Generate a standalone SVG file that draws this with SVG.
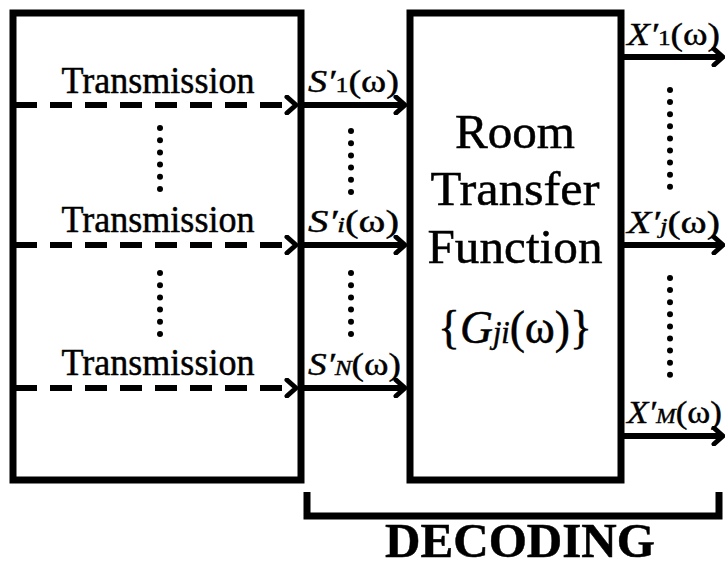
<svg xmlns="http://www.w3.org/2000/svg" width="728" height="566" viewBox="0 0 728 566">
<defs>
<style>
.box{fill:#fff;stroke:#000;stroke-width:7}
.sol{fill:none;stroke:#000;stroke-width:6}
.dash{fill:none;stroke:#000;stroke-width:6;stroke-dasharray:22 13}
.t{font-family:"Liberation Serif","Times New Roman","DejaVu Serif",serif;fill:#000;stroke:#000;stroke-width:0.5}
.lab{font-family:"Liberation Serif","Times New Roman","DejaVu Serif",serif;font-size:31px;fill:#000;stroke:#000;stroke-width:0.4}
.it{font-style:italic}
.sub{font-size:21px}
.dot{fill:#000}
</style>
<marker id="chev" viewBox="-14 -10 16 20" markerWidth="16" markerHeight="20" refX="0" refY="0" orient="auto" markerUnits="userSpaceOnUse">
<path d="M-9,-8 L0,0 L-9,8" fill="none" stroke="#000" stroke-width="5" stroke-linecap="round" stroke-linejoin="round"/>
</marker>
<g id="dots6"><circle class="dot" cx="0" cy="0" r="3"/><circle class="dot" cx="0" cy="12.2" r="3"/><circle class="dot" cx="0" cy="24.4" r="3"/><circle class="dot" cx="0" cy="36.6" r="3"/><circle class="dot" cx="0" cy="48.8" r="3"/><circle class="dot" cx="0" cy="61" r="3"/></g>
<g id="dots9"><circle class="dot" cx="0" cy="0" r="3"/><circle class="dot" cx="0" cy="12.1" r="3"/><circle class="dot" cx="0" cy="24.2" r="3"/><circle class="dot" cx="0" cy="36.3" r="3"/><circle class="dot" cx="0" cy="48.4" r="3"/><circle class="dot" cx="0" cy="60.5" r="3"/><circle class="dot" cx="0" cy="72.6" r="3"/><circle class="dot" cx="0" cy="84.7" r="3"/><circle class="dot" cx="0" cy="96.8" r="3"/></g>
</defs>
<rect width="728" height="566" fill="#fff"/>

<g id="transmission">
<rect class="box" x="13" y="13" width="288" height="467"/>
<text class="t" x="158" y="93" font-size="38" text-anchor="middle" textLength="193" lengthAdjust="spacingAndGlyphs">Transmission</text>
<text class="t" x="158" y="232" font-size="38" text-anchor="middle" textLength="193" lengthAdjust="spacingAndGlyphs">Transmission</text>
<text class="t" x="158" y="375" font-size="38" text-anchor="middle" textLength="193" lengthAdjust="spacingAndGlyphs">Transmission</text>
<use href="#dots6" x="160" y="128"/>
<use href="#dots6" x="160" y="273"/>
</g>

<g id="room">
<rect class="box" x="410" y="13" width="211" height="467"/>
<text class="t" x="515" y="148" font-size="49" text-anchor="middle" textLength="120" lengthAdjust="spacingAndGlyphs">Room</text>
<text class="t" x="515" y="205" font-size="49" text-anchor="middle" textLength="169" lengthAdjust="spacingAndGlyphs">Transfer</text>
<text class="t" x="515" y="263" font-size="49" text-anchor="middle" textLength="175" lengthAdjust="spacingAndGlyphs">Function</text>
<text class="t" x="515" y="343" font-size="47" text-anchor="middle" textLength="154" lengthAdjust="spacingAndGlyphs">{<tspan class="it">G</tspan><tspan class="it" font-size="31">ji</tspan>(ω)}</text>
</g>

<g id="connectors">
<line class="dash" x1="15" y1="105" x2="296" y2="105" marker-end="url(#chev)"/>
<line class="dash" x1="15" y1="245" x2="296" y2="245" marker-end="url(#chev)"/>
<line class="dash" x1="15" y1="388" x2="296" y2="388" marker-end="url(#chev)"/>
<line class="sol" x1="301" y1="105" x2="405" y2="105" marker-end="url(#chev)"/>
<line class="sol" x1="301" y1="245" x2="405" y2="245" marker-end="url(#chev)"/>
<line class="sol" x1="301" y1="388" x2="405" y2="388" marker-end="url(#chev)"/>
<line class="sol" x1="621" y1="57" x2="723" y2="57" marker-end="url(#chev)"/>
<line class="sol" x1="621" y1="245" x2="723" y2="245" marker-end="url(#chev)"/>
<line class="sol" x1="621" y1="436" x2="723" y2="436" marker-end="url(#chev)"/>
</g>

<g id="labels">
<text class="lab" x="308" y="92" textLength="91" lengthAdjust="spacingAndGlyphs"><tspan class="it">S′</tspan><tspan class="sub">1</tspan>(ω)</text>
<text class="lab" x="308" y="232" textLength="91" lengthAdjust="spacingAndGlyphs"><tspan class="it">S′</tspan><tspan class="sub it">i</tspan>(ω)</text>
<text class="lab" x="308" y="375" textLength="93" lengthAdjust="spacingAndGlyphs"><tspan class="it">S′</tspan><tspan class="sub it">N</tspan>(ω)</text>
<text class="lab" x="627" y="45" textLength="93" lengthAdjust="spacingAndGlyphs"><tspan class="it">X′</tspan><tspan class="sub">1</tspan>(ω)</text>
<text class="lab" x="627" y="233" textLength="93" lengthAdjust="spacingAndGlyphs"><tspan class="it">X′</tspan><tspan class="sub it">j</tspan>(ω)</text>
<text class="lab" x="627" y="423" textLength="95" lengthAdjust="spacingAndGlyphs"><tspan class="it">X′</tspan><tspan class="sub it">M</tspan>(ω)</text>
<use href="#dots6" x="351" y="131"/>
<use href="#dots6" x="351" y="273"/>
<use href="#dots9" x="670" y="90"/>
<use href="#dots9" x="670" y="278"/>
</g>

<g id="decoding">
<path d="M307,492 V516 H719 V492" fill="none" stroke="#000" stroke-width="7"/>
<text class="t" x="520" y="557" font-size="48" font-weight="bold" text-anchor="middle" textLength="270" lengthAdjust="spacingAndGlyphs">DECODING</text>
</g>
</svg>
